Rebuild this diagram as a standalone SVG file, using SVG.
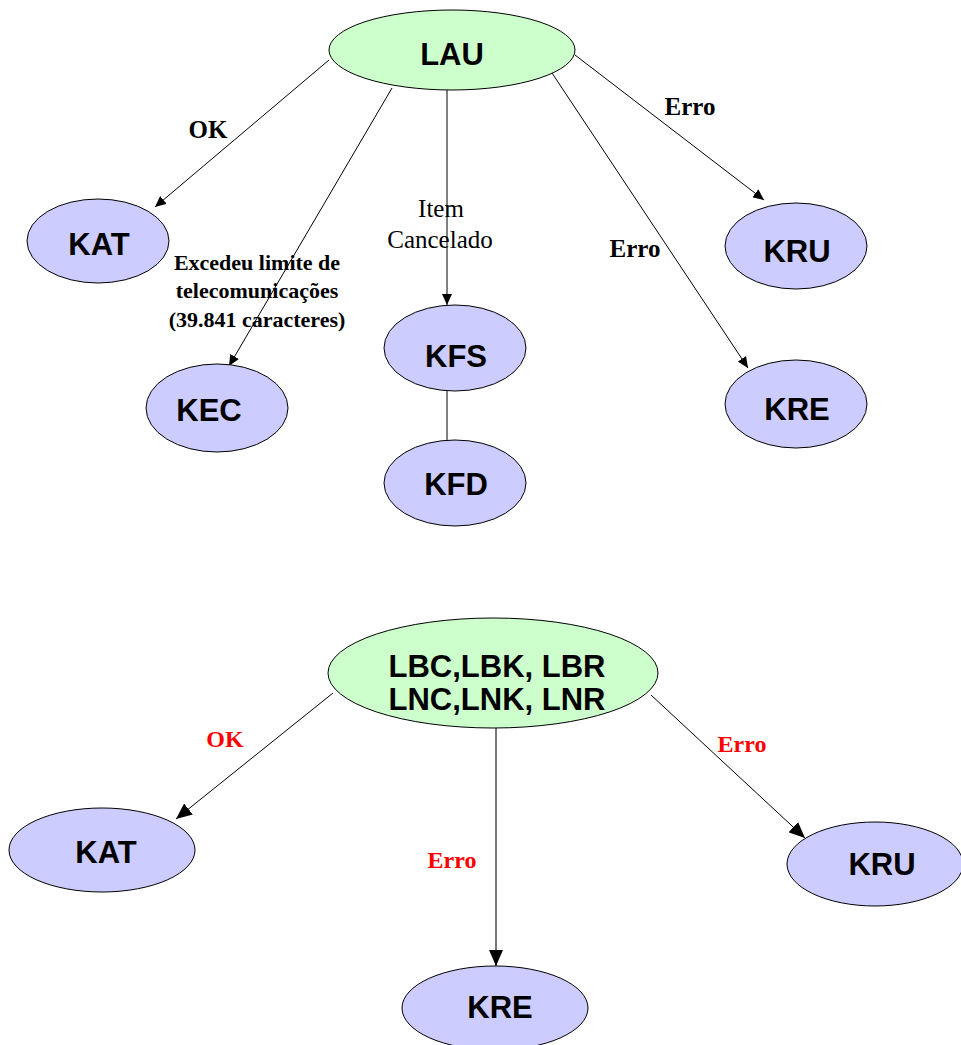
<svg xmlns="http://www.w3.org/2000/svg" width="961" height="1045" viewBox="0 0 961 1045">
  <style>
    .blue { fill: #CCCCFF; stroke: #000; stroke-width: 1; }
    .green { fill: #CCFFCC; stroke: #000; stroke-width: 1; }
    .node { font-family: "Liberation Sans", Arial, sans-serif; font-weight: bold; font-size: 31px; text-anchor: middle; fill: #000; }
    .edge { stroke: #000; stroke-width: 1; fill: none; }
    .small { marker-end: url(#arrowSmall); }
    .big { marker-end: url(#arrowBig); }
    .lbl { font-family: "Liberation Serif", "Times New Roman", serif; font-weight: bold; font-size: 25px; text-anchor: middle; fill: #000; }
    .lbl-red { font-family: "Liberation Serif", "Times New Roman", serif; font-weight: bold; font-size: 24px; text-anchor: middle; fill: #FF0000; }
    .note { font-family: "Liberation Serif", "Times New Roman", serif; font-weight: bold; font-size: 22px; text-anchor: middle; fill: #000; }
    .plain { font-family: "Liberation Serif", "Times New Roman", serif; font-size: 25px; text-anchor: middle; fill: #000; }
  </style>
  <defs>
    <marker id="arrowSmall" markerUnits="userSpaceOnUse" markerWidth="12" markerHeight="10" refX="11" refY="5" orient="auto">
      <path d="M0,0 L11,5 L0,10 Z" fill="#000"/>
    </marker>
    <marker id="arrowBig" markerUnits="userSpaceOnUse" markerWidth="17" markerHeight="14" refX="16" refY="7" orient="auto">
      <path d="M0,0 L16,7 L0,14 Z" fill="#000"/>
    </marker>
  </defs>
  <rect width="961" height="1045" fill="#fff"/>

  <!-- connectors -->
  <g id="connectors">
    <path class="edge small" d="M329,60 L155,207"/>
    <path class="edge small" d="M392,88 L229,366"/>
    <path class="edge small" d="M447,90 L447,305"/>
    <path class="edge" d="M447,391 L447,441"/>
    <path class="edge small" d="M552,73 L748,368"/>
    <path class="edge small" d="M575,55 L764,200"/>

    <path class="edge big" d="M333,693 L176,819"/>
    <path class="edge big" d="M496,728 L496,966" style="stroke:#777;stroke-width:2"/>
    <path class="edge big" d="M651,695 L805,838"/>
  </g>

  <!-- connector labels -->
  <g id="labels">
    <text class="lbl" x="208" y="138">OK</text>
    <text class="note" x="257" y="270">Excedeu limite de</text>
    <text class="note" x="257" y="298">telecomunicações</text>
    <text class="note" x="257" y="327">(39.841 caracteres)</text>
    <text class="plain" x="441" y="217">Item</text>
    <text class="plain" x="440" y="248">Cancelado</text>
    <text class="lbl" x="690" y="115">Erro</text>
    <text class="lbl" x="635" y="257">Erro</text>

    <text class="lbl-red" x="225" y="747">OK</text>
    <text class="lbl-red" x="452" y="868">Erro</text>
    <text class="lbl-red" x="742" y="752">Erro</text>
  </g>

  <!-- upper tree -->
  <g id="LAU">
    <ellipse class="green" cx="452" cy="50" rx="123" ry="40"/>
    <text class="node" x="452" y="65">LAU</text>
  </g>
  <g id="KAT1">
    <ellipse class="blue" cx="98" cy="241" rx="71" ry="42"/>
    <text class="node" x="99" y="255">KAT</text>
  </g>
  <g id="KEC">
    <ellipse class="blue" cx="217" cy="408" rx="71" ry="44"/>
    <text class="node" x="209" y="421">KEC</text>
  </g>
  <g id="KFS">
    <ellipse class="blue" cx="455" cy="348" rx="71" ry="43"/>
    <text class="node" x="456" y="367">KFS</text>
  </g>
  <g id="KFD">
    <ellipse class="blue" cx="455" cy="483" rx="71" ry="43"/>
    <text class="node" x="456" y="495">KFD</text>
  </g>
  <g id="KRU1">
    <ellipse class="blue" cx="796" cy="246" rx="71" ry="43"/>
    <text class="node" x="797" y="262">KRU</text>
  </g>
  <g id="KRE1">
    <ellipse class="blue" cx="796" cy="404" rx="71" ry="44"/>
    <text class="node" x="797" y="420">KRE</text>
  </g>

  <!-- lower tree -->
  <g id="LBC">
    <ellipse class="green" cx="493" cy="673" rx="165" ry="55"/>
    <text class="node" x="497" y="677">LBC,LBK, LBR</text>
    <text class="node" x="497" y="710">LNC,LNK, LNR</text>
  </g>
  <g id="KAT2">
    <ellipse class="blue" cx="102" cy="850" rx="93" ry="42"/>
    <text class="node" x="106" y="863">KAT</text>
  </g>
  <g id="KRE2">
    <ellipse class="blue" cx="495" cy="1008" rx="93" ry="42"/>
    <text class="node" x="500" y="1018">KRE</text>
  </g>
  <g id="KRU2">
    <ellipse class="blue" cx="875" cy="864" rx="88" ry="42"/>
    <text class="node" x="882" y="875">KRU</text>
  </g>
</svg>
